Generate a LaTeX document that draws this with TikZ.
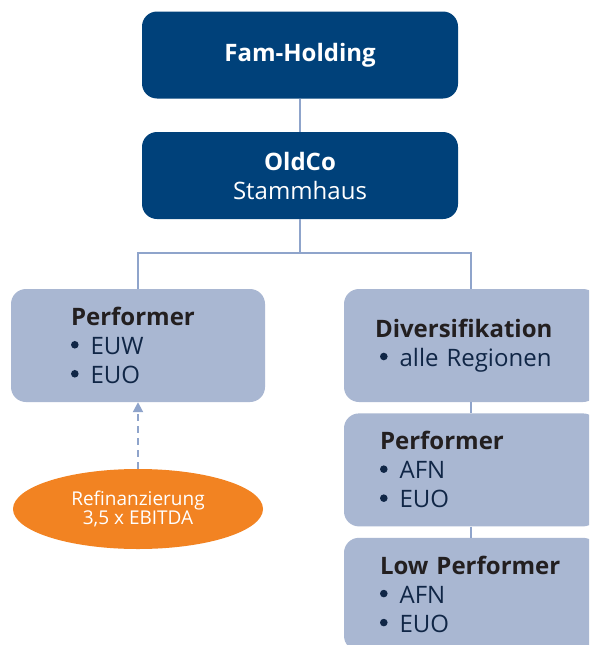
\documentclass[tikz,border=0pt]{standalone}
\usepackage{fontspec}
\setmainfont{Open Sans}
\usetikzlibrary{arrows.meta,positioning,shapes.geometric}

\definecolor{holdblue}{RGB}{0,65,122}
\definecolor{unitblue}{RGB}{169,183,210}
\definecolor{linkblue}{RGB}{143,164,203}
\definecolor{refiorange}{RGB}{242,131,34}
\definecolor{titleink}{RGB}{35,31,32}
\definecolor{itemink}{RGB}{16,38,70}

\newcommand{\bul}{\raisebox{6pt}{\tikz\fill (0,0) circle (3.8pt);}\hspace{12pt}}

\begin{document}
\begin{tikzpicture}[
    x=1pt, y=-1pt,
    >={Triangle[length=10pt,width=10pt]},
    every node/.style={font=\fontsize{24}{29}\selectfont},
    holding/.style={
        fill=holdblue,
        rounded corners=15pt,
        text=white,
        align=center,
        minimum width=316pt,
        minimum height=87pt
    },
    unit/.style={
        fill=unitblue,
        rounded corners=15pt,
        text=itemink,
        align=left,
        minimum height=113pt,
        inner ysep=0pt
    },
    link/.style={
        draw=linkblue,
        line width=2pt
    }
]

\path[use as bounding box, clip] (0,0) rectangle (589,645);
\fill[white] (0,0) rectangle (589,645);

\node[holding] (fam) at (300,55) {\textbf{Fam-Holding}};
\node[holding] (oldco) at (300,175.5) {\textbf{OldCo}\\Stammhaus};

\node[unit, inner xsep=60pt, text width=134pt] (perfL) at (138,345.5) {%
\textcolor{titleink}{\textbf{Performer}}\\
\bul EUW\\
\bul EUO
};

\node[unit, inner xsep=36pt, text width=182pt] (div) at (471,345.5) {%
\hspace*{-5pt}\textcolor{titleink}{\textbf{Diversifikation}}\\
\bul alle Regionen
};

\node[unit, inner xsep=36pt, text width=182pt, below=11pt of div] (perfR) {%
\textcolor{titleink}{\textbf{Performer}}\\
\bul AFN\\
\bul EUO
};

\node[unit, inner xsep=36pt, text width=182pt, below=11pt of perfR] (low) {%
\textcolor{titleink}{\textbf{Low Performer}}\\
\bul AFN\\
\bul EUO
};

\node[ellipse, fill=refiorange, text=white, align=center,
      minimum width=250pt, minimum height=80pt,
      font=\fontsize{19}{19}\selectfont] (refi) at (138,509) {%
Refinanzierung\\
3,5 x EBITDA
};

\coordinate (split) at (300,253);

\draw[link] (fam) -- (oldco);
\draw[link] (oldco.south) -- (split) -| (perfL.north);
\draw[link] (split) -| (div.north);
\draw[link] (div) -- (perfR);
\draw[link] (perfR) -- (low);
\draw[link, dash pattern=on 7pt off 5pt, ->] (refi) -- (perfL);

\end{tikzpicture}
\end{document}
